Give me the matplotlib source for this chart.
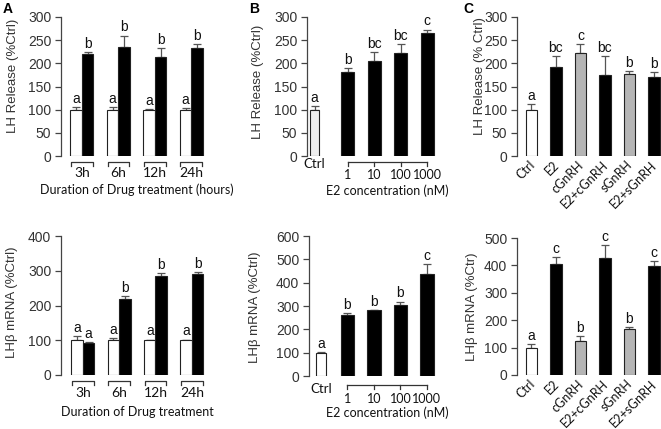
import numpy as np
import matplotlib
matplotlib.use('Agg')
import matplotlib.pyplot as plt

plt.rcParams['font.family'] = ['Liberation Sans', 'DejaVu Sans']

# ---- data ----
A_times = ['3h', '6h', '12h', '24h']
A_rel_ctrl = [100, 100, 100, 100]
A_rel_ctrl_err = [5, 5, 2, 4]
A_rel_e2 = [220, 235, 213, 233]
A_rel_e2_err = [4, 25, 20, 9]
A_rel_ctrl_sig = ['a', 'a', 'a', 'a']
A_rel_e2_sig = ['b', 'b', 'b', 'b']

A_mrna_ctrl = [100, 100, 100, 100]
A_mrna_ctrl_err = [13, 6, 2, 2]
A_mrna_e2 = [93, 220, 285, 291]
A_mrna_e2_err = [2, 6, 9, 5]
A_mrna_ctrl_sig = ['a', 'a', 'a', 'a']
A_mrna_e2_sig = ['a', 'b', 'b', 'b']

B_conc = ['1', '10', '100', '1000']
B_rel_ctrl, B_rel_ctrl_err = 100, 7
B_rel = [181, 206, 222, 265]
B_rel_err = [9, 18, 20, 8]
B_rel_sig = ['a', 'b', 'bc', 'bc', 'c']
B_mrna_ctrl, B_mrna_ctrl_err = 100, 3
B_mrna = [262, 281, 306, 436]
B_mrna_err = [8, 3, 13, 42]
B_mrna_sig = ['a', 'b', 'b', 'b', 'c']

C_groups = ['Ctrl', 'E2', 'cGnRH', 'E2+cGnRH', 'sGnRH', 'E2+sGnRH']
C_rel = [100, 193, 222, 175, 178, 170]
C_rel_err = [12, 22, 20, 40, 6, 12]
C_rel_sig = ['a', 'bc', 'c', 'bc', 'b', 'b']
C_mrna = [100, 405, 125, 427, 167, 397]
C_mrna_err = [12, 25, 17, 47, 8, 20]
C_mrna_sig = ['a', 'c', 'b', 'c', 'b', 'c']

# ---- layout helpers (pixel based) ----
W, H = 661, 429
fig = plt.figure(figsize=(W / 100, H / 100), dpi=100)

GRAY = '#b5b5b5'
EDGE = '#222222'
ERR = '#555555'
TXT = '#333333'
CAL = ['Lato', 'DejaVu Sans']


def make_ax(left, right, top, zero, ymax, step):
    ax = fig.add_axes([left / W, 1 - zero / H, (right - left) / W, (zero - top) / H])
    ax.set_ylim(0, ymax)
    ax.set_yticks(np.arange(0, ymax + 1, step))
    for s in ['top', 'right', 'bottom']:
        ax.spines[s].set_visible(False)
    ax.spines['left'].set_color('#444444')
    ax.spines['left'].set_linewidth(0.9)
    ax.tick_params(axis='y', direction='out', length=4, width=0.9, color='#444444',
                   labelsize=10, labelcolor=TXT, pad=3)
    ax.set_xticks([])
    return ax


def ay(ax, ypx):
    # figure pixel row -> axes fraction
    b = ax.get_position()
    return ((1 - ypx / H) - b.y0) / b.height


def bars(ax, x, vals, errs, colors, width, sig):
    ax.bar(x, vals, width=width, color=colors, edgecolor=EDGE, linewidth=0.8, zorder=2)
    ax.errorbar(x, vals, yerr=[np.zeros(len(vals)), errs], fmt='none', ecolor=ERR,
                elinewidth=0.9, capsize=3, capthick=0.9, zorder=1)
    for xi, v, e, s in zip(x, vals, errs, sig):
        ax.annotate(s, (xi, v + e), xytext=(0, 3), textcoords='offset points',
                    ha='center', va='baseline', fontsize=10, color='#111111')


def ylab(ax, text, xpx, ypx):
    # xpx is the label's centre column; the label anchors at its right side
    ax.set_ylabel(text, fontsize=9.5, color=TXT)
    b = ax.get_position()
    ax.yaxis.set_label_coords(((xpx + 6) / W - b.x0) / b.width, ay(ax, ypx))


# ---- panel A ----
bw = 0.315
for row in range(2):
    if row == 0:
        ax = make_ax(61, 206, 17, 156, 300, 50)
        ctrl, cerr, e2, eerr = A_rel_ctrl, A_rel_ctrl_err, A_rel_e2, A_rel_e2_err
        csig, esig = A_rel_ctrl_sig, A_rel_e2_sig
        ax.set_xlim(-0.575, 3.40)
        ylab(ax, 'LH Release (%Ctrl)', 13, 76)
        yb, yt, yl, label = 162, 173, 190, 'Duration of Drug treatment (hours)'
    else:
        ax = make_ax(61, 206, 236, 375, 400, 100)
        ctrl, cerr, e2, eerr = A_mrna_ctrl, A_mrna_ctrl_err, A_mrna_e2, A_mrna_e2_err
        csig, esig = A_mrna_ctrl_sig, A_mrna_e2_sig
        ax.set_xlim(-0.60, 3.39)
        ylab(ax, 'LHβ mRNA (%Ctrl)', 12, 302)
        yb, yt, yl, label = 381, 393, 412, 'Duration of Drug treatment'
    x = np.arange(len(A_times))
    bars(ax, x - bw / 2, ctrl, cerr, 'white', bw, csig)
    bars(ax, x + bw / 2, e2, eerr, 'black', bw, esig)
    tr = ax.get_xaxis_transform()
    y0, y1 = ay(ax, yb), ay(ax, yb + 4)
    for xi, t in zip(x, A_times):
        ax.plot([xi - bw * 0.95, xi - bw * 0.95, xi + bw * 0.95, xi + bw * 0.95],
                [y1, y0, y0, y1], color='#333333', lw=0.9, transform=tr, clip_on=False)
        ax.text(xi, ay(ax, yt), t, transform=tr, ha='center', va='center',
                fontsize=10, family=CAL, color='#111111')
    ax.text(1.5, ay(ax, yl), label, transform=tr, ha='center', va='center',
            fontsize=9, family=CAL, color='#111111')

# ---- panel B ----
for row in range(2):
    if row == 0:
        ax = make_ax(307, 437, 17, 156, 300, 50)
        xc, xb = 0.0, np.arange(4) + 1.25
        ax.set_xlim(-0.283, 4.62)
        cval, cerr, vals, errs, sig, cfill = B_rel_ctrl, B_rel_ctrl_err, B_rel, B_rel_err, B_rel_sig, '#eeeeee'
        ylab(ax, 'LH Release (%Ctrl)', 258, 82)
        yc, yb, yn, yl = 164, 162, 175, 191
    else:
        ax = make_ax(309, 437, 236, 376, 600, 100)
        xc, xb = 0.0, np.arange(4) + 1.0
        ax.set_xlim(-0.45, 4.38)
        cval, cerr, vals, errs, sig, cfill = B_mrna_ctrl, B_mrna_ctrl_err, B_mrna, B_mrna_err, B_mrna_sig, 'white'
        ylab(ax, 'LHβ mRNA (%Ctrl)', 255, 307)
        yc, yb, yn, yl = 389, 385, 399, 413
    bars(ax, [xc], [cval], [cerr], cfill, 0.35, sig[:1])
    bars(ax, xb, vals, errs, 'black', 0.5, sig[1:])
    tr = ax.get_xaxis_transform()
    y0, y1 = ay(ax, yb), ay(ax, yb + 4)
    ax.plot([xb[0], xb[-1]], [y0, y0], color='#333333', lw=0.9, transform=tr, clip_on=False)
    for xi, t in zip(xb, B_conc):
        ax.plot([xi, xi], [y0, y1], color='#333333', lw=0.9, transform=tr, clip_on=False)
        ax.text(xi, ay(ax, yn), t, transform=tr, ha='center', va='center',
                fontsize=9, family=CAL, color='#111111')
    ax.text(xc, ay(ax, yc), 'Ctrl', transform=tr, ha='center', va='center',
            fontsize=9.5, family=CAL, color='#111111')
    ax.text(xb.mean(), ay(ax, yl), 'E2 concentration (nM)', transform=tr, ha='center',
            va='center', fontsize=9, family=CAL, color='#111111')

# ---- panel C ----
c_colors = ['white', 'black', GRAY, 'black', GRAY, 'black']
for row in range(2):
    if row == 0:
        ax = make_ax(517, 661, 17, 156, 300, 50)
        vals, errs, sig = C_rel, C_rel_err, C_rel_sig
        ylab(ax, 'LH Release (% Ctrl)', 480, 76)
        ylb = 163
    else:
        ax = make_ax(517, 661, 238, 375, 500, 100)
        vals, errs, sig = C_mrna, C_mrna_err, C_mrna_sig
        ylab(ax, 'LHβ mRNA (%Ctr)', 472, 307)
        ylb = 382
    ax.set_xlim(-0.59, 5.29)
    x = np.arange(len(C_groups))
    bars(ax, x, vals, errs, c_colors, 0.47, sig)
    tr = ax.get_xaxis_transform()
    for xi, t in zip(x, C_groups):
        ax.text(xi + 0.05, ay(ax, ylb), t, transform=tr, rotation=45, ha='right',
                va='center', rotation_mode='anchor', fontsize=9, family=CAL,
                color='#111111')

# panel letters
for t, xp in zip(['A', 'B', 'C'], [3, 249, 463]):
    fig.text(xp / W, 1 - 2 / H, t, ha='left', va='top', fontsize=10, fontweight='bold')

fig.savefig('out.png', dpi=100)
